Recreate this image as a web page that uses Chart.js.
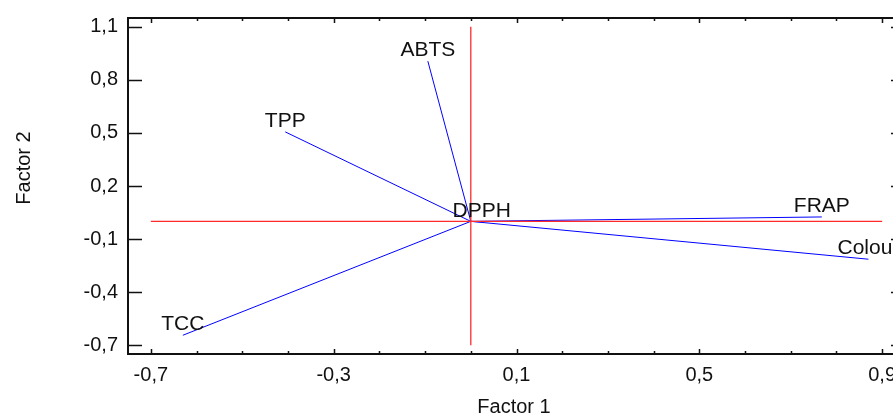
<!DOCTYPE html>
<html>
<head>
<meta charset="utf-8">
<script src="https://cdn.jsdelivr.net/npm/chart.js@4.4.1/dist/chart.umd.min.js"></script>
<style>
  html, body { margin: 0; padding: 0; overflow: hidden; background: #fff; }
  #wrap { width: 925px; height: 414px; }
</style>
</head>
<body>
<div id="wrap"><canvas id="biplot" width="925" height="414"></canvas></div>
<script>
// loadings of each variable on factor 1 / factor 2
const variables = ['ABTS', 'TPP', 'DPPH', 'FRAP', 'Colour', 'TCC'];
const factor1 = [-0.094, -0.406, 0.024, 0.768, 0.870, -0.630];
const factor2 = [0.906, 0.506, -0.003, 0.025, -0.214, -0.644];

// tick labels
const xTickLabels = [-0.7, -0.3, 0.1, 0.5, 0.9];
const yTickLabels = [-0.7, -0.4, -0.1, 0.2, 0.5, 0.8, 1.1];

const FONT = 'Arial, "Liberation Sans", sans-serif';
const TEXT = '#111';
const fmt = v => Number(v).toFixed(1).replace('.', ',');

const vectorSets = variables.map((name, i) => ({
  label: name,
  data: [{ x: 0, y: 0 }, { x: factor1[i], y: factor2[i] }],
  borderColor: '#0000ff',
  borderWidth: 1,
  showLine: true,
  pointRadius: 0
}));

// red cross through the origin, spanning the tick range
const crossSets = [
  { label: 'h', data: [{ x: xTickLabels[0], y: 0 }, { x: xTickLabels[xTickLabels.length - 1], y: 0 }] },
  { label: 'v', data: [{ x: 0, y: yTickLabels[0] }, { x: 0, y: yTickLabels[yTickLabels.length - 1] }] }
].map(d => Object.assign(d, { borderColor: '#ff2a2a', borderWidth: 1.3, showLine: true, pointRadius: 0 }));

const framePlugin = {
  id: 'frame',
  afterDatasetsDraw(chart) {
    const { ctx, chartArea: a, scales: { x, y } } = chart;
    ctx.save();
    ctx.strokeStyle = '#111';
    ctx.lineWidth = 2;
    ctx.strokeRect(a.left, a.top, a.right - a.left, a.bottom - a.top);

    ctx.lineWidth = 1.5;
    ctx.beginPath();
    // y ticks, left and right, pointing in
    yTickLabels.forEach(v => {
      const py = Math.round(y.getPixelForValue(v)) + 0.5;
      ctx.moveTo(a.left, py); ctx.lineTo(a.left + 14, py);
      ctx.moveTo(a.right, py); ctx.lineTo(a.right - 14, py);
    });
    // x ticks every 0.1, longer at labelled ones
    for (let k = -7; k <= 9; k++) {
      const v = k / 10;
      const major = xTickLabels.some(t => Math.abs(t - v) < 1e-9);
      const len = major ? 5 : 3;
      const px = Math.round(x.getPixelForValue(v)) + 0.5;
      ctx.moveTo(px, a.bottom); ctx.lineTo(px, a.bottom - len);
      ctx.moveTo(px, a.top); ctx.lineTo(px, a.top + len);
    }
    ctx.stroke();

    // variable labels above the arrow tips
    ctx.fillStyle = TEXT;
    ctx.font = '21px ' + FONT;
    ctx.textAlign = 'center';
    ctx.textBaseline = 'alphabetic';
    variables.forEach((name, i) => {
      ctx.fillText(name, x.getPixelForValue(factor1[i]), y.getPixelForValue(factor2[i]) - 5);
    });

    // axis titles
    ctx.font = '20px ' + FONT;
    ctx.fillText('Factor 1', 514, 413);
    ctx.translate(30, 168);
    ctx.rotate(-Math.PI / 2);
    ctx.fillText('Factor 2', 0, 0);
    ctx.restore();
  }
};

new Chart(document.getElementById('biplot'), {
  type: 'scatter',
  data: { datasets: [...crossSets, ...vectorSets] },
  options: {
    responsive: false,
    animation: false,
    layout: { padding: { top: 18, right: 20, left: 0, bottom: 0 } },
    plugins: { legend: { display: false }, tooltip: { enabled: false } },
    scales: {
      x: {
        type: 'linear',
        min: -0.75,
        max: 0.95,
        afterBuildTicks: s => { s.ticks = xTickLabels.map(v => ({ value: v })); },
        afterFit: s => { s.height = 60; s.paddingLeft = 0; s.paddingRight = 0; },
        grid: { display: false, drawTicks: false },
        border: { display: false },
        ticks: { callback: v => fmt(v), font: { family: FONT, size: 20 }, color: TEXT, padding: 9, maxRotation: 0, autoSkip: false }
      },
      y: {
        type: 'linear',
        min: -0.75,
        max: 1.15,
        afterBuildTicks: s => { s.ticks = yTickLabels.map(v => ({ value: v })); },
        afterFit: s => { s.width = 128; s.paddingTop = 0; s.paddingBottom = 0; },
        grid: { display: false, drawTicks: false },
        border: { display: false },
        ticks: { callback: v => fmt(v), font: { family: FONT, size: 20 }, color: TEXT, padding: 10, autoSkip: false }
      }
    }
  },
  plugins: [framePlugin]
});
</script>
</body>
</html>
